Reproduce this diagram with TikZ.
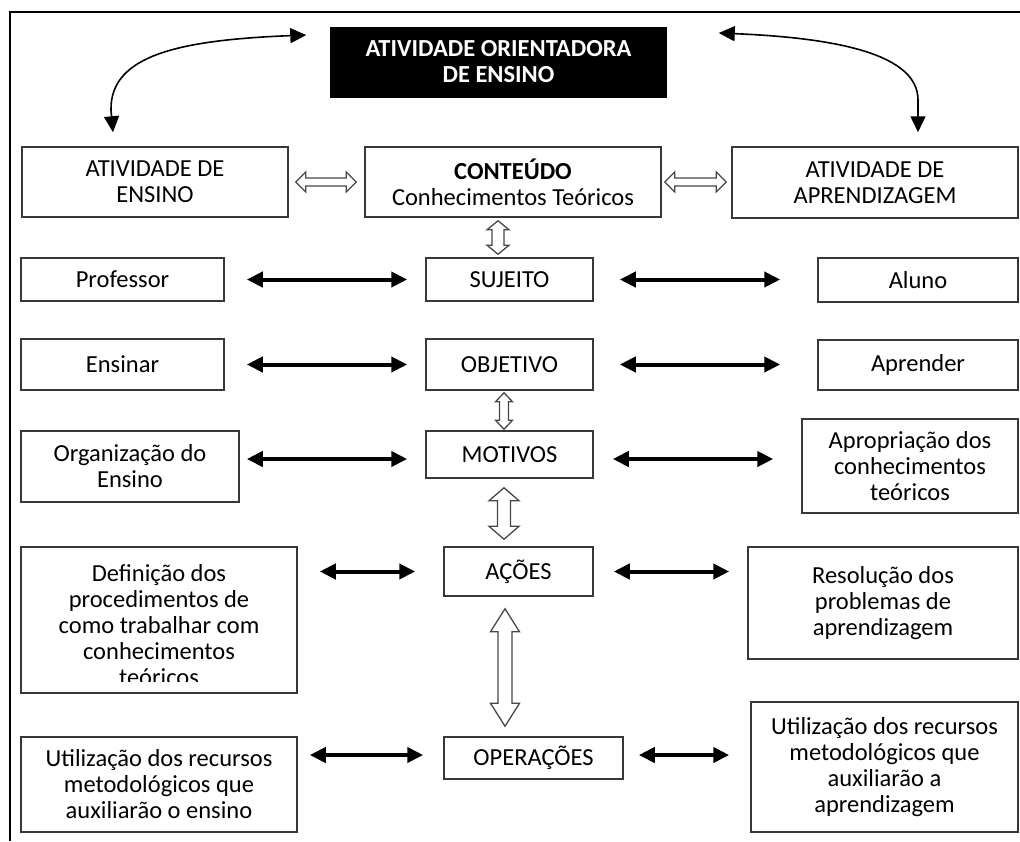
\documentclass[tikz,border=0pt]{standalone}
\usepackage{fontspec}
\setmainfont{Carlito}
\usetikzlibrary{arrows.meta,calc}

% hollow (outlined) double arrows: #1 start, #2 end, #3 half head width,
% #4 half shaft width, #5 head length
\newcommand\hollowH[5]{%
  \draw[hollowarrow] let \p1=(#1), \p2=(#2) in
    (\x1,\y1) -- ({\x1+#5pt},{\y1+#3pt}) -- ({\x1+#5pt},{\y1+#4pt})
    -- ({\x2-#5pt},{\y1+#4pt}) -- ({\x2-#5pt},{\y1+#3pt}) -- (\x2,\y1)
    -- ({\x2-#5pt},{\y1-#3pt}) -- ({\x2-#5pt},{\y1-#4pt})
    -- ({\x1+#5pt},{\y1-#4pt}) -- ({\x1+#5pt},{\y1-#3pt}) -- cycle;}
\newcommand\hollowV[5]{%
  \draw[hollowarrow] let \p1=(#1), \p2=(#2) in
    (\x1,\y1) -- ({\x1+#3pt},{\y1-#5pt}) -- ({\x1+#4pt},{\y1-#5pt})
    -- ({\x1+#4pt},{\y2+#5pt}) -- ({\x1+#3pt},{\y2+#5pt}) -- (\x1,\y2)
    -- ({\x1-#3pt},{\y2+#5pt}) -- ({\x1-#4pt},{\y2+#5pt})
    -- ({\x1-#4pt},{\y1-#5pt}) -- ({\x1-#3pt},{\y1-#5pt}) -- cycle;}

\begin{document}
\begin{tikzpicture}[x=1pt,y=-1pt,
  txt/.style={font=\fontsize{24.5}{26}\selectfont},
  box/.style={draw=black!78, line width=1.5pt, fill=white, inner sep=0pt,
    align=center, txt},
  blk/.style={line width=4pt,
    {Triangle[length=16pt,width=15pt]}-{Triangle[length=16pt,width=15pt]}},
  curv/.style={line width=1.6pt,
    {Triangle[length=16pt,width=15pt]}-{Triangle[length=16pt,width=15pt]}},
  hollowarrow/.style={draw=black!72, line width=1.3pt, fill=white,
    line join=miter}]

\useasboundingbox (0,0) rectangle (1020,841);

% outer frame
\draw[line width=2pt] (1020,12) -- (10,12) -- (10,841);

% title
\node[box, draw=none, fill=black, text=white,
  font=\fontsize{24.5}{26}\selectfont\bfseries,
  minimum width=337pt, minimum height=71pt] (aoe) at (498.5,62)
  {ATIVIDADE ORIENTADORA\\DE ENSINO};

% first row
\node[box, minimum width=266pt, minimum height=70pt] (ens) at (155,182)
  {ATIVIDADE DE\\ENSINO};
\node[box, minimum width=296pt, minimum height=70pt] (cont) at (513,182)
  {\textbf{CONTEÚDO}\\Conhecimentos Teóricos};
\node[box, minimum width=286pt, minimum height=71pt] (apr) at (875,182.5)
  {ATIVIDADE DE\\APRENDIZAGEM};

% left column
\node[box, minimum width=203pt, minimum height=43pt] (prof) at (122.5,279.5) {Professor};
\node[box, minimum width=203pt, minimum height=51pt] (ensinar) at (122.5,364.5) {Ensinar};
\node[box, minimum width=218pt, minimum height=71pt] (org) at (130,466.5)
  {Organização do\\Ensino};
\node[box, minimum width=276pt, minimum height=146pt,
  path picture={
    \clip ([yshift=12pt]path picture bounding box.south west)
      rectangle (path picture bounding box.north east);
    \node[txt, align=center] at ([yshift=-5pt]path picture bounding box.center)
      {Definição dos\\procedimentos de\\como trabalhar com\\conhecimentos\\teóricos};
  }] (def) at (159,620) {};
\node[box, minimum width=276pt, minimum height=95pt] (util1) at (159,784.5)
  {Utilização dos recursos\\metodológicos que\\auxiliarão o ensino};

% central column
\node[box, minimum width=167pt, minimum height=43pt] (suj) at (509.5,279.5) {SUJEITO};
\node[box, minimum width=167pt, minimum height=51pt] (obj) at (509.5,364.5) {OBJETIVO};
\node[box, minimum width=167pt, minimum height=47pt] (mot) at (509.5,454.5) {MOTIVOS};
\node[box, minimum width=149pt, minimum height=49pt] (acoes) at (518.5,571.5) {AÇÕES};
\node[box, minimum width=179pt, minimum height=42pt] (oper) at (533.5,758) {OPERAÇÕES};

% right column
\node[box, minimum width=200pt, minimum height=44pt] (aluno) at (918,280) {Aluno};
\node[box, minimum width=200pt, minimum height=50pt] (aprender) at (918,365) {Aprender};
\node[box, minimum width=216pt, minimum height=94pt] (apro) at (910,466)
  {Apropriação dos\\conhecimentos\\teóricos};
\node[box, minimum width=270pt, minimum height=112pt] (res) at (883,603)
  {Resolução dos\\problemas de\\aprendizagem};
\node[box, minimum width=267pt, minimum height=130pt] (util2) at (884.5,767)
  {Utilização dos recursos\\metodológicos que\\auxiliarão a\\aprendizagem};

% curved links to the title
\draw[curv] ($(aoe.west)+(-23,-27)$) .. controls (180,40) and (110,55) .. (111,110)
  -- ($(ens.north)+(-42,-14)$);
\draw[curv] ($(aoe.east)+(51,-29)$) .. controls (840,38) and (918,55) .. (918,100)
  -- ($(apr.north)+(43,-14)$);

% hollow double arrows
\hollowH{$(ens.east)+(7,0)$}{$(cont.west)+(-8,0)$}{10}{4}{10}
\hollowH{$(cont.east)+(3,0)$}{$(apr.west)+(-5,0)$}{10}{4}{10}
\hollowV{$(cont.south)+(-15,3)$}{$(suj.north)+(-11.5,-3)$}{11}{6}{9}
\hollowV{$(obj.south)+(-5.5,2)$}{$(mot.north)+(-5.5,-1)$}{8.5}{4.5}{9}
\hollowV{$(mot.south)+(-5.5,9)$}{$(acoes.north)+(-14.5,-7)$}{15}{6.5}{13}
\hollowV{$(acoes.south)+(-13.5,12)$}{$(oper.north)+(-28.5,-10)$}{14.5}{7}{23}

% solid double arrows
\draw[blk] ($(prof.east)+(22,0)$) -- ($(suj.west)+(-18,0)$);
\draw[blk] ($(suj.east)+(26,0)$) -- ($(aluno.west |- suj.east)+(-37,0)$);
\draw[blk] ($(ensinar.east)+(22,0)$) -- ($(obj.west)+(-18,0)$);
\draw[blk] ($(obj.east)+(26,0)$) -- ($(aprender.west |- obj.east)+(-37,0)$);
\draw[blk] ($(org.east |- mot.west)+(7,4.5)$) -- ($(mot.west)+(-18,4.5)$);
\draw[blk] ($(mot.east)+(19,4.5)$) -- ($(apro.west |- mot.east)+(-28,4.5)$);
\draw[blk] ($(def.east |- acoes.west)+(22,0)$) -- ($(acoes.west)+(-28,0)$);
\draw[blk] ($(acoes.east)+(20,0)$) -- ($(res.west |- acoes.east)+(-18,0)$);
\draw[blk] ($(util1.east |- oper.west)+(12,-3)$) -- ($(oper.west)+(-20,-3)$);
\draw[blk] ($(oper.east)+(15,-3)$) -- ($(util2.west |- oper.east)+(-21,-3)$);
\end{tikzpicture}
\end{document}
